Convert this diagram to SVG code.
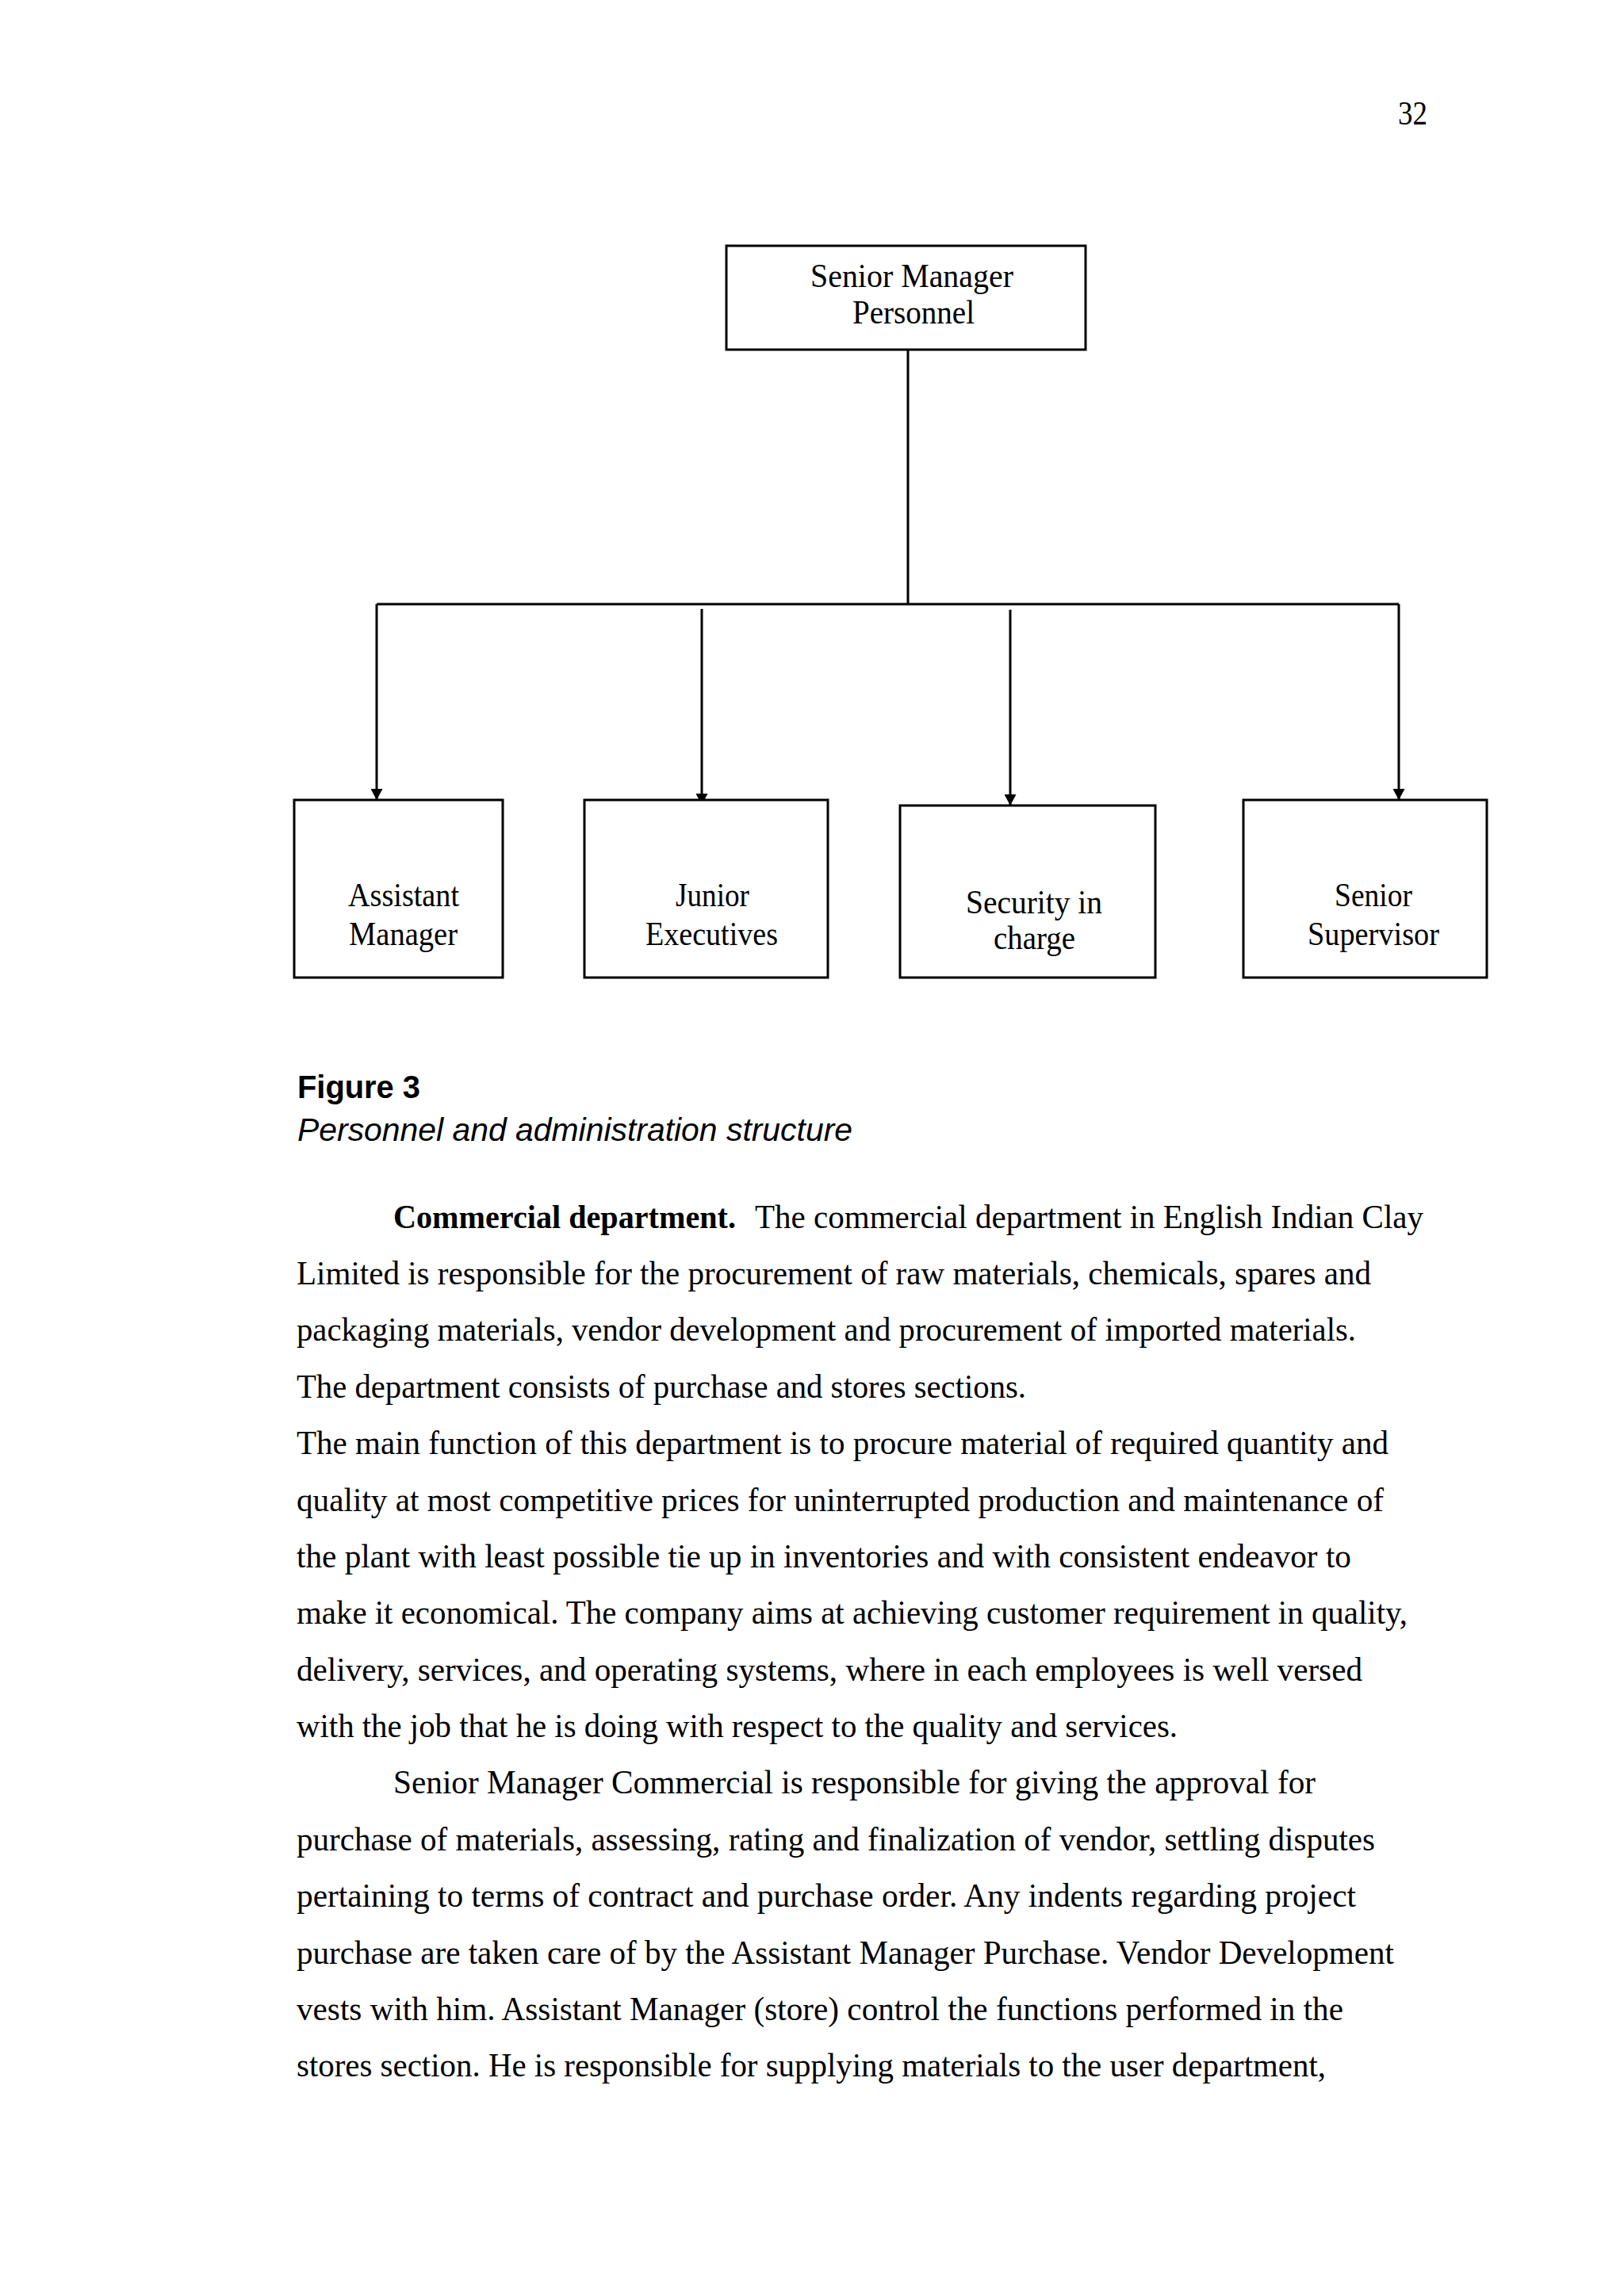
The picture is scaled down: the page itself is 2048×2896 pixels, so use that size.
<svg xmlns="http://www.w3.org/2000/svg" width="2048" height="2896" viewBox="0 0 2048 2896">
<style>
.bg{fill:#ffffff}
.box{fill:#ffffff;stroke:#000000;stroke-width:3}
.ln{fill:none;stroke:#000000;stroke-width:3}
.lbl{font-family:"Liberation Serif","Times New Roman",serif;font-size:42px;fill:#000000}
.body{font-family:"Liberation Serif","Times New Roman",serif;font-size:42px;fill:#000000}
.bold{font-weight:bold}
.fig{font-family:"Liberation Sans",Arial,sans-serif;font-size:41px;font-weight:bold;fill:#000000}
.cap{font-family:"Liberation Sans",Arial,sans-serif;font-size:41px;font-style:italic;fill:#000000}
</style>
<defs>
<marker id="arr" markerUnits="userSpaceOnUse" markerWidth="15" markerHeight="15" viewBox="0 0 15 15" refX="14" refY="7.5" orient="auto">
<path d="M0,0 L14,7.5 L0,15 Z" fill="#000000"/>
</marker>
</defs>
<rect class="bg" x="0" y="0" width="2048" height="2896"/>
<text class="body" x="1763" y="157" textLength="37" lengthAdjust="spacingAndGlyphs">32</text>

<g id="connectors">
<line class="ln" x1="1145" y1="441" x2="1145" y2="762"/>
<line class="ln" x1="475" y1="762" x2="1764" y2="762"/>
<line class="ln" x1="475" y1="762" x2="475" y2="1009" marker-end="url(#arr)"/>
<line class="ln" x1="885" y1="768" x2="885" y2="1015" marker-end="url(#arr)"/>
<line class="ln" x1="1274" y1="769" x2="1274" y2="1016" marker-end="url(#arr)"/>
<line class="ln" x1="1764" y1="762" x2="1764" y2="1009" marker-end="url(#arr)"/>
</g>

<g id="node-senior-manager-personnel">
<rect class="box" x="916" y="310" width="453" height="131"/>
<text class="lbl" x="1022" y="362" textLength="256" lengthAdjust="spacingAndGlyphs">Senior  Manager</text>
<text class="lbl" x="1075" y="408" textLength="154" lengthAdjust="spacingAndGlyphs">Personnel</text>
</g>

<g id="node-assistant-manager">
<rect class="box" x="371" y="1009" width="263" height="224"/>
<text class="lbl" x="439" y="1143" textLength="140" lengthAdjust="spacingAndGlyphs">Assistant</text>
<text class="lbl" x="440" y="1192" textLength="137" lengthAdjust="spacingAndGlyphs">Manager</text>
</g>

<g id="node-junior-executives">
<rect class="box" x="737" y="1009" width="307" height="224"/>
<text class="lbl" x="852" y="1143" textLength="93" lengthAdjust="spacingAndGlyphs">Junior</text>
<text class="lbl" x="814" y="1192" textLength="167" lengthAdjust="spacingAndGlyphs">Executives</text>
</g>

<g id="node-security-in-charge">
<rect class="box" x="1135" y="1016" width="322" height="217"/>
<text class="lbl" x="1218" y="1152" textLength="172" lengthAdjust="spacingAndGlyphs">Security  in</text>
<text class="lbl" x="1253" y="1197" textLength="103" lengthAdjust="spacingAndGlyphs">charge</text>
</g>

<g id="node-senior-supervisor">
<rect class="box" x="1568" y="1009" width="307" height="224"/>
<text class="lbl" x="1683" y="1143" textLength="98" lengthAdjust="spacingAndGlyphs">Senior</text>
<text class="lbl" x="1649" y="1192" textLength="166" lengthAdjust="spacingAndGlyphs">Supervisor</text>
</g>

<text class="fig" x="375" y="1385" textLength="155" lengthAdjust="spacingAndGlyphs">Figure 3</text>
<text class="cap" x="375" y="1439" textLength="700" lengthAdjust="spacingAndGlyphs">Personnel and administration structure</text>

<g id="body-text">
<text class="body bold" x="496" y="1549" textLength="432" lengthAdjust="spacingAndGlyphs">Commercial department.</text>
<text class="body" x="952" y="1549" textLength="843" lengthAdjust="spacingAndGlyphs">The commercial department in English Indian Clay</text>
<text class="body" x="374" y="1620" textLength="1355" lengthAdjust="spacingAndGlyphs">Limited is responsible for the procurement of raw materials, chemicals, spares and</text>
<text class="body" x="374" y="1691" textLength="1336" lengthAdjust="spacingAndGlyphs">packaging materials, vendor development and procurement of imported materials.</text>
<text class="body" x="374" y="1763" textLength="920" lengthAdjust="spacingAndGlyphs">The department consists of purchase and stores sections.</text>
<text class="body" x="374" y="1834" textLength="1377" lengthAdjust="spacingAndGlyphs">The main function of this department is to procure material of required quantity and</text>
<text class="body" x="374" y="1906" textLength="1371" lengthAdjust="spacingAndGlyphs">quality at most competitive prices for uninterrupted production and maintenance of</text>
<text class="body" x="374" y="1977" textLength="1330" lengthAdjust="spacingAndGlyphs">the plant with least possible tie up in inventories and with consistent endeavor to</text>
<text class="body" x="374" y="2048" textLength="1401" lengthAdjust="spacingAndGlyphs">make it economical. The company aims at achieving customer requirement in quality,</text>
<text class="body" x="374" y="2120" textLength="1344" lengthAdjust="spacingAndGlyphs">delivery, services, and operating systems, where in each employees is well versed</text>
<text class="body" x="374" y="2191" textLength="1111" lengthAdjust="spacingAndGlyphs">with the job that he is doing with respect to the quality and services.</text>
<text class="body" x="496" y="2262" textLength="1163" lengthAdjust="spacingAndGlyphs">Senior Manager Commercial is responsible for giving the approval for</text>
<text class="body" x="374" y="2334" textLength="1360" lengthAdjust="spacingAndGlyphs">purchase of materials, assessing, rating and finalization of vendor, settling disputes</text>
<text class="body" x="374" y="2405" textLength="1336" lengthAdjust="spacingAndGlyphs">pertaining to terms of contract and purchase order. Any indents regarding project</text>
<text class="body" x="374" y="2477" textLength="1384" lengthAdjust="spacingAndGlyphs">purchase are taken care of by the Assistant Manager Purchase. Vendor Development</text>
<text class="body" x="374" y="2548" textLength="1320" lengthAdjust="spacingAndGlyphs">vests with him. Assistant Manager (store) control the functions performed in the</text>
<text class="body" x="374" y="2619" textLength="1298" lengthAdjust="spacingAndGlyphs">stores section. He is responsible for supplying materials to the user department,</text>
</g>
</svg>
